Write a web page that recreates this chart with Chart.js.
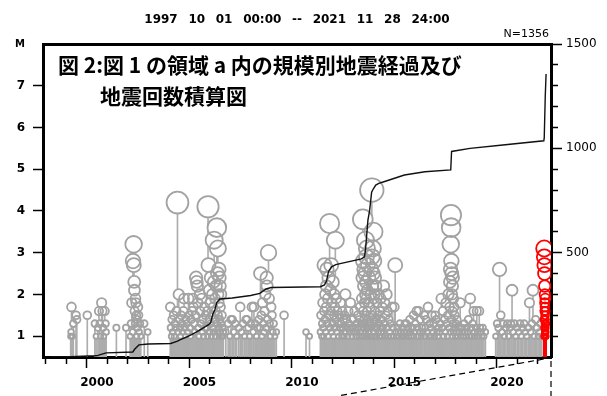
<!DOCTYPE html>
<html>
<head>
<meta charset="utf-8">
<script src="https://cdn.jsdelivr.net/npm/chart.js@4/dist/chart.umd.min.js"></script>
<style>
  html, body { margin: 0; padding: 0; background: #fff; }
  canvas { display: block; }
</style>
</head>
<body>
<canvas id="quakeChart" width="607" height="396"></canvas>
<script>
// Events as [decimal year, magnitude]
const quakes1998to2003 = [
  [1998.72,1.0],[1998.74,1.1],[1998.76,1.7],[1998.80,1.0],[1998.85,1.3],[1998.98,1.5],[1999.02,1.4],
  [1999.53,1.5],[1999.90,1.3],[1999.96,1.0],[2000.05,1.2],[2000.10,1.6],[2000.14,1.3],[2000.18,1.0],
  [2000.23,1.8],[2000.27,1.6],[2000.30,1.2],[2000.33,1.0],[2000.38,1.6],[2000.42,1.3],[2000.45,1.1],
  [2000.95,1.2],[2001.42,1.2],[2001.62,1.0],[2001.66,1.3],[2001.70,1.8],[2001.74,1.1],[2001.76,2.8],
  [2001.79,3.2],[2001.80,2.7],[2001.82,2.3],[2001.83,2.1],[2001.84,1.6],[2001.86,1.3],[2001.88,1.9],
  [2001.90,1.8],[2001.92,1.5],[2001.94,1.0],[2001.96,1.4],[2001.98,1.2],[2002.00,1.7],[2002.03,1.5],
  [2002.06,1.1],[2002.10,1.3],[2002.14,1.0],[2002.31,1.3],[2002.48,1.1]
];
const quakes2003to2005 = [
  [2003.58,1.7],[2003.60,1.2],[2003.63,1.0],[2003.66,1.4],[2003.70,1.1],[2003.74,1.5],[2003.77,1.0],
  [2003.80,1.3],[2003.84,1.2],[2003.88,1.6],[2003.93,4.2],[2003.96,1.1],[2003.99,2.0],[2004.02,1.4],
  [2004.05,1.2],[2004.08,1.0],[2004.11,1.5],[2004.14,1.3],[2004.18,1.1],[2004.22,1.6],[2004.25,1.9],
  [2004.28,1.2],[2004.32,1.0],[2004.35,1.4],[2004.38,1.3],[2004.42,1.1],[2004.47,1.9],[2004.50,1.5],
  [2004.53,1.2],[2004.57,1.0],[2004.60,1.4],[2004.64,1.6],[2004.68,1.9],[2004.71,1.7],[2004.74,1.3],
  [2004.77,1.1],[2004.80,1.5],[2004.84,2.4],[2004.87,2.3],[2004.90,2.2],[2004.92,1.8],[2004.95,1.2],
  [2004.98,1.0],[2005.02,2.0],[2005.05,1.6],[2005.08,1.3],[2005.11,1.9],[2005.14,1.1],[2005.17,1.4],
  [2005.20,1.0],[2005.24,1.7],[2005.27,1.2],[2005.30,1.5]
];
const quakes2005to2006 = [
  [2005.36,1.2],[2005.38,1.6],[2005.40,1.0],[2005.42,4.1],[2005.44,2.7],[2005.46,1.4],[2005.48,2.1],
  [2005.50,1.1],[2005.52,1.8],[2005.54,1.3],[2005.56,2.4],[2005.58,1.0],[2005.60,1.5],[2005.62,2.0],
  [2005.64,1.2],[2005.66,1.7],[2005.68,1.1],[2005.70,2.3],[2005.72,3.3],[2005.74,1.4],[2005.76,1.9],
  [2005.78,1.0],[2005.80,1.6],[2005.82,2.2],[2005.84,1.3],[2005.85,3.6],[2005.87,1.1],[2005.88,2.5],
  [2005.90,3.1],[2005.91,1.5],[2005.92,2.0],[2005.94,1.2],[2005.95,2.6],[2005.96,1.8],[2005.97,1.0],
  [2005.98,2.4],[2006.00,1.4],[2006.01,2.2],[2006.02,1.1],[2006.03,1.7],[2006.05,1.3],[2006.06,2.0],
  [2006.08,1.0],[2006.10,1.5],[2006.12,1.2],[2006.14,1.0],[2006.17,1.1]
];
const quakes2006to2010 = [
  [2006.29,1.1],[2006.40,1.3],[2006.48,1.0],[2006.54,1.4],[2006.61,1.4],[2006.68,1.1],[2006.75,1.3],
  [2006.82,1.0],[2006.92,1.2],[2006.99,1.7],[2007.05,1.1],[2007.12,1.3],[2007.20,1.0],[2007.27,1.4],
  [2007.32,1.4],[2007.38,1.2],[2007.45,1.0],[2007.51,1.3],[2007.56,1.7],[2007.62,1.1],[2007.66,1.7],
  [2007.72,1.3],[2007.78,1.0],[2007.84,1.2],[2007.90,1.4],[2007.95,1.2],[2007.98,2.5],[2008.02,1.5],
  [2008.05,1.0],[2008.08,1.8],[2008.12,1.3],[2008.15,1.1],[2008.18,1.6],[2008.22,2.0],[2008.25,1.2],
  [2008.28,2.4],[2008.30,2.2],[2008.33,1.4],[2008.37,3.0],[2008.40,1.9],[2008.43,1.3],[2008.46,1.0],
  [2008.50,1.7],[2008.54,1.5],[2008.58,1.1],[2008.62,1.3],[2008.68,1.0],[2008.75,1.1],[2009.13,1.5],
  [2010.20,1.1],[2010.37,1.0]
];
const quakes2010to2012 = [
  [2010.90,1.1],[2010.93,1.5],[2010.96,1.0],[2010.99,1.3],[2011.02,1.8],[2011.04,1.2],[2011.06,1.0],
  [2011.08,1.6],[2011.10,2.7],[2011.12,1.4],[2011.14,2.0],[2011.16,1.1],[2011.18,1.7],[2011.20,2.2],
  [2011.22,2.6],[2011.24,1.3],[2011.26,1.9],[2011.28,1.0],[2011.30,2.4],[2011.32,1.5],[2011.35,3.7],
  [2011.37,1.2],[2011.39,2.1],[2011.41,1.6],[2011.43,2.7],[2011.45,1.1],[2011.47,1.8],[2011.49,1.3],
  [2011.51,2.3],[2011.53,1.0],[2011.55,1.5],[2011.57,2.0],[2011.59,1.2],[2011.61,1.7],[2011.63,3.3],
  [2011.65,1.4],[2011.67,1.9],[2011.70,1.1],[2011.73,1.6],[2011.76,1.3],[2011.79,1.0],[2011.82,1.5],
  [2011.85,1.2],[2011.88,1.8],[2011.91,1.3],[2011.94,1.0],[2011.97,1.6],[2012.00,1.2],[2012.03,1.4],
  [2012.06,1.0],[2012.09,1.5],[2012.12,2.0],[2012.15,1.1],[2012.18,1.4],[2012.21,1.2],[2012.24,1.0],
  [2012.27,1.6],[2012.30,1.3],[2012.33,1.1],[2012.37,1.8],[2012.40,1.2],[2012.44,1.0],[2012.48,1.4],
  [2012.52,1.1],[2012.56,1.6],[2012.60,1.2]
];
const quakes2012to2014 = [
  [2012.63,1.0],[2012.66,1.3],[2012.69,1.1],[2012.72,1.5],[2012.75,1.2],[2012.78,1.0],[2012.81,1.4],
  [2012.84,1.7],[2012.87,1.1],[2012.90,1.3],[2012.92,1.9],[2012.94,1.0],[2012.96,2.4],[2012.97,3.8],
  [2012.98,1.6],[2012.99,2.8],[2013.00,1.2],[2013.01,2.2],[2013.02,1.4],[2013.03,2.6],[2013.04,1.0],
  [2013.05,1.8],[2013.06,2.5],[2013.07,1.3],[2013.08,2.0],[2013.09,1.1],[2013.10,3.3],[2013.11,1.5],
  [2013.12,2.3],[2013.13,1.0],[2013.14,1.9],[2013.15,2.9],[2013.16,1.2],[2013.17,3.1],[2013.18,1.6],
  [2013.19,2.1],[2013.20,1.0],[2013.21,1.4],[2013.22,2.7],[2013.23,1.2],[2013.24,1.8],[2013.26,1.1],
  [2013.28,2.4],[2013.30,1.3],[2013.32,1.0],[2013.34,1.7],[2013.36,2.0],[2013.38,1.2],[2013.40,2.6],
  [2013.41,4.5],[2013.42,1.5],[2013.43,2.9],[2013.44,1.0],[2013.45,2.2],[2013.46,3.1],[2013.47,1.4],
  [2013.48,2.5],[2013.49,3.5],[2013.50,1.1],[2013.51,1.9],[2013.52,2.8],[2013.53,1.3],[2013.54,2.0],
  [2013.55,1.0],[2013.56,2.4],[2013.57,1.6],[2013.58,1.2],[2013.60,2.2],[2013.62,1.4],[2013.64,1.0],
  [2013.66,1.8],[2013.68,1.2],[2013.70,1.5],[2013.72,1.1],[2013.74,2.0],[2013.76,1.3],[2013.78,1.0],
  [2013.80,1.6],[2013.82,1.2],[2013.84,1.9],[2013.86,1.1],[2013.88,1.4],[2013.90,1.0],[2013.92,1.7],
  [2013.95,1.2],[2013.98,2.2],[2014.01,1.3],[2014.04,1.8],[2014.07,1.0],[2014.10,1.5],[2014.13,2.0],
  [2014.16,1.2],[2014.19,1.6],[2014.22,1.0],[2014.25,1.4],[2014.28,1.1],[2014.31,1.3],[2014.35,1.0],
  [2014.39,1.7],[2014.43,1.2],[2014.47,1.0],[2014.51,1.7],[2014.55,2.7],[2014.58,1.1]
];
const quakes2014to2016 = [
  [2014.62,1.0],[2014.66,1.2],[2014.70,1.1],[2014.74,1.0],[2014.78,1.3],[2014.82,1.1],[2014.86,1.0],
  [2014.90,1.2],[2014.94,1.0],[2014.98,1.1],[2015.02,1.3],[2015.06,1.0],[2015.10,1.3],[2015.14,1.1],
  [2015.18,1.2],[2015.22,1.0],[2015.26,1.4],[2015.30,1.1],[2015.34,1.0],[2015.38,1.2],[2015.44,1.5],
  [2015.46,1.0],[2015.50,1.1],[2015.54,1.3],[2015.59,1.6],[2015.62,1.2],[2015.66,1.0],[2015.69,1.6],
  [2015.74,1.1],[2015.78,1.4],[2015.82,1.0],[2015.86,1.2],[2015.90,1.1],[2015.96,1.5],[2015.98,1.0],
  [2016.02,1.2],[2016.06,1.4],[2016.10,1.1],[2016.15,1.7],[2016.19,1.0],[2016.23,1.3],[2016.27,1.2],
  [2016.31,1.0],[2016.35,1.5],[2016.39,1.1],[2016.43,1.3],[2016.47,1.0],[2016.50,1.5],[2016.55,1.4],
  [2016.59,1.1],[2016.63,1.0],[2016.67,1.2],[2016.71,1.1],[2016.75,1.3]
];
const quakes2017to2019 = [
  [2016.80,1.9],[2016.84,1.2],[2016.88,1.6],[2016.92,1.0],[2016.96,1.4],[2017.00,1.1],[2017.03,1.8],
  [2017.06,1.3],[2017.09,1.0],[2017.12,1.5],[2017.15,2.0],[2017.18,1.2],[2017.20,1.7],[2017.22,2.3],
  [2017.24,1.1],[2017.25,2.6],[2017.26,3.2],[2017.27,3.9],[2017.28,3.6],[2017.29,2.8],[2017.30,1.4],
  [2017.31,2.5],[2017.32,2.0],[2017.33,1.0],[2017.34,2.2],[2017.35,1.6],[2017.36,2.4],[2017.37,1.3],
  [2017.38,1.9],[2017.40,1.1],[2017.42,1.7],[2017.44,1.2],[2017.46,1.5],[2017.48,1.0],[2017.51,1.3],
  [2017.54,1.1],[2017.57,1.4],[2017.60,1.0],[2017.63,1.2],[2017.67,1.1],[2017.72,1.8],[2017.76,1.0],
  [2017.80,1.2],[2017.84,1.1],[2017.88,1.0],[2017.92,1.3],[2017.96,1.1],[2018.00,1.0],[2018.04,1.2],
  [2018.08,1.1],[2018.12,1.4],[2018.16,1.0],[2018.21,1.9],[2018.25,1.2],[2018.29,1.0],[2018.33,1.3],
  [2018.37,1.6],[2018.41,1.1],[2018.45,1.0],[2018.49,1.2],[2018.53,1.6],[2018.57,1.1],[2018.61,1.0],
  [2018.65,1.6],[2018.69,1.2],[2018.74,1.1],[2018.78,1.0],[2018.82,1.2],[2018.88,1.0],[2018.95,1.1]
];
const quakes2019to2021 = [
  [2019.45,1.0],[2019.52,1.3],[2019.58,1.2],[2019.64,2.6],[2019.70,1.5],[2019.76,1.1],[2019.82,1.3],
  [2019.88,1.0],[2019.95,1.2],[2020.02,1.3],[2020.08,1.0],[2020.14,1.2],[2020.20,1.3],[2020.25,2.1],
  [2020.31,1.1],[2020.37,1.3],[2020.43,1.0],[2020.50,1.2],[2020.57,1.1],[2020.64,1.3],[2020.70,1.0],
  [2020.77,1.2],[2020.84,1.3],[2020.90,1.1],[2020.97,1.0],[2021.04,1.2],[2021.10,1.8],[2021.16,1.1],
  [2021.22,1.3],[2021.27,2.1],[2021.33,1.0],[2021.40,1.4],[2021.46,1.2],[2021.52,1.0],[2021.58,1.1],
  [2021.64,1.3],[2021.70,1.0]
];
// Latest activity, drawn in red
const swarm2021 = [
  [2021.800,1.0],[2021.810,1.4],[2021.820,3.1],[2021.822,1.2],[2021.825,2.9],[2021.828,1.0],
  [2021.830,2.7],[2021.832,1.6],[2021.835,2.5],[2021.840,1.1],[2021.842,2.2],[2021.845,1.8],
  [2021.850,2.0],[2021.852,1.3],[2021.855,1.7],[2021.860,1.0],[2021.862,1.5],[2021.865,1.2],
  [2021.870,1.9],[2021.872,1.1],[2021.875,1.4],[2021.880,1.0],[2021.882,1.6],[2021.885,1.3],
  [2021.890,1.2],[2021.895,1.0],[2021.900,1.1],[2021.905,1.3],[2021.910,1.0]
];
// Cumulative number of events as [decimal year, count]
const cumulativeCount = [
  [1997.75,0],[1998.70,2],[1999.90,6],[2000.05,8],[2000.45,20],[2001.75,24],[2001.85,38],
  [2002.05,58],[2002.50,62],[2003.60,65],[2003.90,75],[2004.10,85],[2004.40,97],[2004.80,117],
  [2005.15,137],[2005.45,155],[2005.55,165],[2005.65,205],[2005.75,225],[2005.85,262],[2006.00,278],
  [2006.60,283],[2007.50,295],[2007.95,305],[2008.25,326],[2008.50,333],[2010.90,337],[2011.10,345],
  [2011.20,365],[2011.30,410],[2011.45,432],[2011.65,443],[2012.90,470],[2013.05,480],[2013.10,513],
  [2013.22,656],[2013.30,700],[2013.40,790],[2013.48,805],[2013.60,824],[2013.75,832],[2014.00,840],
  [2015.00,872],[2016.00,888],[2017.26,897],[2017.30,985],[2018.20,1000],[2019.80,1016],
  [2021.80,1036],[2021.82,1050],[2021.87,1250],[2021.91,1356]
];

// Axis labels and header texts
const labeledYears = [2000, 2005, 2010, 2015, 2020];
const magnitudeLabels = [1, 2, 3, 4, 5, 6, 7];
const countLabels = [500, 1000, 1500];
const magnitudeAxisName = 'M';
const periodText = '1997 10 01 00:00 -- 2021 11 28 24:00';
const totalText = 'N=1356';
const titleLines = ['図 2:図 1 の領域 a 内の規模別地震経過及び', '地震回数積算図'];

const M_BASE = 0.5;
const SWARM_START = swarm2021[0][0];

const grayQuakes = [].concat(quakes1998to2003, quakes2003to2005, quakes2005to2006,
  quakes2006to2010, quakes2010to2012, quakes2012to2014, quakes2014to2016,
  quakes2017to2019, quakes2019to2021);

const toStem = ([t, m]) => ({ x: t, y: [M_BASE, m] });
const toPoint = ([t, m]) => ({ x: t, y: m });
const ringRadius = ctx => (ctx.raw ? 2.6 * ctx.raw.y : 3);

const GRAY = '#a2a2a2';
const STEM_GRAY = '#adadad';
const RED = '#ff0000';

function stemSet(data, color, order) {
  return { type: 'bar', data: data.map(toStem), backgroundColor: color, borderWidth: 0,
           barThickness: 1, grouped: false, order, yAxisID: 'y' };
}
function discSet(data, order) {
  return { type: 'scatter', data: data.map(toPoint), pointRadius: ringRadius,
           pointBackgroundColor: '#ffffff', pointBorderWidth: 0, order, yAxisID: 'y' };
}
function ringSet(data, color, order) {
  return { type: 'scatter', data: data.map(toPoint), pointRadius: ringRadius,
           pointBackgroundColor: 'rgba(0,0,0,0)', pointBorderColor: color,
           pointBorderWidth: 1.8, order, yAxisID: 'y' };
}

// Header, panel title and the guide lines toward the enlarged period
const chartTexts = {
  id: 'chartTexts',
  afterDraw(chart) {
    const { ctx, chartArea: a, scales } = chart;
    ctx.save();
    ctx.fillStyle = '#000';
    ctx.textBaseline = 'alphabetic';

    ctx.font = 'bold 12px "DejaVu Sans"';
    ctx.textAlign = 'center';
    if ('wordSpacing' in ctx) ctx.wordSpacing = '6.5px';
    ctx.fillText(periodText, (a.left + a.right) / 2, 23);
    if ('wordSpacing' in ctx) ctx.wordSpacing = '0px';

    ctx.font = '11px "DejaVu Sans"';
    ctx.textAlign = 'right';
    ctx.fillText(totalText, a.right - 2, a.top - 7);

    ctx.font = 'bold 21px "Noto Sans CJK JP"';
    ctx.textAlign = 'left';
    ctx.fillText(titleLines[0], a.left + 15, a.top + 29);
    ctx.fillText(titleLines[1], a.left + 57, a.top + 60);

    ctx.strokeStyle = '#000';
    ctx.lineWidth = 1.2;
    ctx.setLineDash([6, 4]);
    const xs = scales.x.getPixelForValue(SWARM_START);
    ctx.beginPath();
    ctx.moveTo(xs, a.bottom + 2);
    ctx.lineTo(a.left + (a.right - a.left) * 0.58, chart.height);
    ctx.stroke();
    ctx.beginPath();
    ctx.moveTo(a.right, a.bottom + 4);
    ctx.lineTo(a.right, chart.height);
    ctx.stroke();
    ctx.restore();
  }
};

const frameBorder = { display: true, width: 3, color: '#000' };

new Chart(document.getElementById('quakeChart'), {
  type: 'scatter',
  data: {
    datasets: [
      { type: 'line', data: cumulativeCount.map(([t, n]) => ({ x: t, y: n })), yAxisID: 'y2',
        borderColor: '#111', borderWidth: 1.4, pointRadius: 0, tension: 0, fill: false, order: 0 },
      ringSet(swarm2021, RED, 2),
      ringSet(grayQuakes, GRAY, 3),
      discSet(swarm2021, 4),
      discSet(grayQuakes, 5),
      stemSet(swarm2021, RED, 6),
      stemSet(grayQuakes, STEM_GRAY, 7)
    ]
  },
  options: {
    responsive: false,
    animation: false,
    events: [],
    layout: { padding: { top: 44, left: 0, right: 0, bottom: 0 } },
    plugins: { legend: { display: false }, tooltip: { enabled: false }, title: { display: false } },
    scales: {
      x: {
        type: 'linear', position: 'bottom', min: 1997.37, max: 2022.15, offset: false, z: 1,
        afterFit: s => { s.height = 39; },
        border: frameBorder,
        grid: {
          drawOnChartArea: false, drawTicks: true, tickLength: 11, tickWidth: 1.5, tickColor: '#000',
          tickBorderDash: c => (c.tick && labeledYears.includes(c.tick.value) ? [] : [5, 40])
        },
        ticks: {
          stepSize: 1, autoSkip: false, includeBounds: false, maxRotation: 0, padding: 8,
          color: '#000', font: { family: 'DejaVu Sans', size: 12, weight: 'bold' },
          callback: v => (labeledYears.includes(v) ? String(v) : '')
        }
      },
      xTop: {
        type: 'linear', position: 'top', min: 1997.37, max: 2022.15, z: 1,
        afterFit: s => { s.height = 0; },
        border: frameBorder,
        grid: { drawOnChartArea: false, drawTicks: false },
        ticks: { display: false }
      },
      y: {
        type: 'linear', position: 'left', min: M_BASE, max: 8, z: 1,
        afterFit: s => { s.width = 43; },
        border: frameBorder,
        grid: {
          drawOnChartArea: false, tickLength: 10, tickWidth: 1.5,
          tickColor: c => (c.tick && magnitudeLabels.includes(c.tick.value) ? '#000' : 'rgba(0,0,0,0)')
        },
        ticks: {
          stepSize: 1, includeBounds: false, autoSkip: false, padding: 8, color: '#000',
          font: c => (c.tick && c.tick.value === 8
            ? { family: 'DejaVu Sans', size: 10, weight: 'bold' }
            : { family: 'DejaVu Sans', size: 12, weight: 'bold' }),
          callback: v => (magnitudeLabels.includes(v) ? String(v) : (v === 8 ? magnitudeAxisName : ''))
        }
      },
      y2: {
        type: 'linear', position: 'right', min: 0, max: 1500, z: 1,
        afterFit: s => { s.width = 56; },
        border: frameBorder,
        grid: {
          drawOnChartArea: false, tickLength: 11, tickWidth: 1.5,
          tickColor: c => (c.tick && c.tick.value === 0 ? 'rgba(0,0,0,0)' : '#000'),
          tickBorderDash: c => (c.tick && countLabels.includes(c.tick.value) ? [] : [5, 40])
        },
        ticks: {
          stepSize: 100, autoSkip: false, padding: 4, color: '#000',
          font: { family: 'DejaVu Sans', size: 12 },
          callback: v => (countLabels.includes(v) ? String(v) : '')
        }
      }
    }
  },
  plugins: [chartTexts]
});
</script>
</body>
</html>
